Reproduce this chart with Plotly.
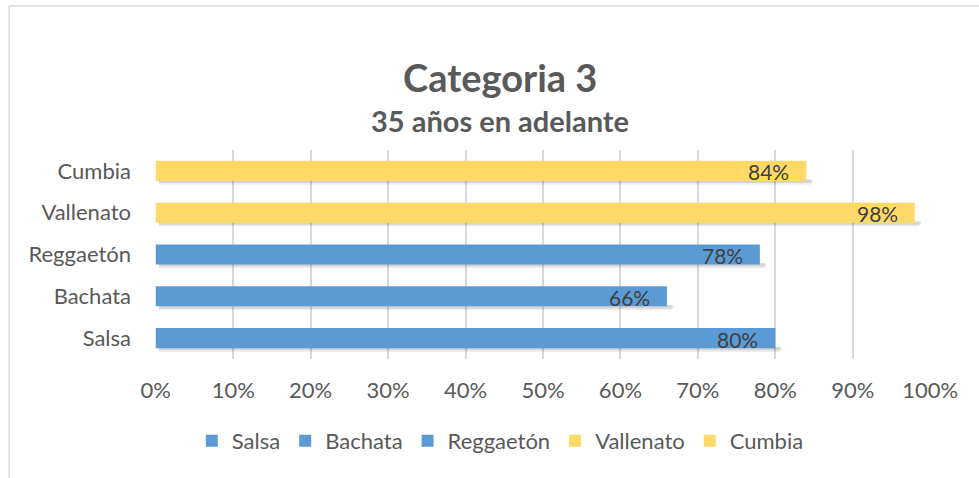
import plotly.graph_objects as go

categories = ["Salsa", "Bachata", "Reggaetón", "Vallenato", "Cumbia"]
values = [0.80, 0.66, 0.78, 0.98, 0.84]
colors = ["#5B9BD5", "#5B9BD5", "#5B9BD5", "#FFD966", "#FFD966"]
x_ticks = [0, 0.1, 0.2, 0.3, 0.4, 0.5, 0.6, 0.7, 0.8, 0.9, 1.0]
x_tick_labels = ["0%", "10%", "20%", "30%", "40%", "50%", "60%", "70%", "80%", "90%", "100%"]

FONT = "Lato"
TXT = "#595959"
BW = 0.48

fig = go.Figure()

# soft shadows under the bars
for cat, val in zip(categories, values):
    fig.add_trace(go.Bar(
        y=[cat], x=[val + 0.002], orientation="h", width=0.13,
        offset=-BW / 2 - 0.09, base=0.004,
        marker=dict(color="rgba(0,0,0,0.07)", line=dict(width=0)),
        showlegend=False, hoverinfo="skip"))
    fig.add_trace(go.Bar(
        y=[cat], x=[val + 0.004], orientation="h", width=0.08,
        offset=-BW / 2 - 0.05, base=0.004,
        marker=dict(color="rgba(0,0,0,0.10)", line=dict(width=0)),
        showlegend=False, hoverinfo="skip"))

for cat, val, col in zip(categories, values, colors):
    fig.add_trace(go.Bar(
        y=[cat], x=[val], name=cat, orientation="h", width=BW, offset=-BW / 2,
        marker=dict(color=col, line=dict(width=0)),
        text=[f"{round(val * 100)}%"], textposition="none"))

for cat, val in zip(categories, values):
    fig.add_annotation(x=val, y=cat, xref="x", yref="y", text=f"{round(val * 100)}%",
                       showarrow=False, xanchor="right", xshift=-15, yshift=-1,
                       font=dict(family=FONT, size=21, color="#404040"))

fig.add_annotation(x=0.445, y=1.469, xref="paper", yref="paper", text="<b>Categoria 3</b>",
                   showarrow=False, font=dict(family=FONT, size=38, color=TXT))
fig.add_annotation(x=0.445, y=1.235, xref="paper", yref="paper", text="<b>35 años en adelante</b>",
                   showarrow=False, font=dict(family=FONT, size=29, color=TXT))

# chart border (top and left edges visible)
fig.add_shape(type="line", xref="paper", yref="paper", x0=-0.188, x1=1.1, y0=1.689, y1=1.689,
              line=dict(color="#D9D9D9", width=1.5))
fig.add_shape(type="line", xref="paper", yref="paper", x0=-0.188, x1=-0.188, y0=1.689, y1=-0.7,
              line=dict(color="#D9D9D9", width=1.5))

fig.update_layout(
    width=979, height=478,
    margin=dict(l=155, r=48, t=150, b=119),
    paper_bgcolor="white", plot_bgcolor="white",
    barmode="overlay",
    font=dict(family=FONT, size=22, color=TXT),
    legend=dict(orientation="h", x=0.445, xanchor="center", y=-0.392, yanchor="middle",
                font=dict(family=FONT, size=22, color=TXT), itemwidth=30,
                traceorder="normal"),
    xaxis=dict(range=[-0.001, 1.001], tickvals=x_ticks, ticktext=x_tick_labels,
               showgrid=True, gridcolor="#D9D9D9", gridwidth=1.5, zeroline=False,
               showline=False, ticks="", ticklabelstandoff=16,
               tickfont=dict(family=FONT, size=22, color=TXT)),
    yaxis=dict(categoryorder="array", categoryarray=categories, showgrid=False,
               zeroline=False, showline=False, ticks="", ticklabelstandoff=23,
               tickfont=dict(family=FONT, size=22, color=TXT)),
)

fig.write_html("out.html", config={"displayModeBar": False},
               post_script="document.body.style.margin='0';")
